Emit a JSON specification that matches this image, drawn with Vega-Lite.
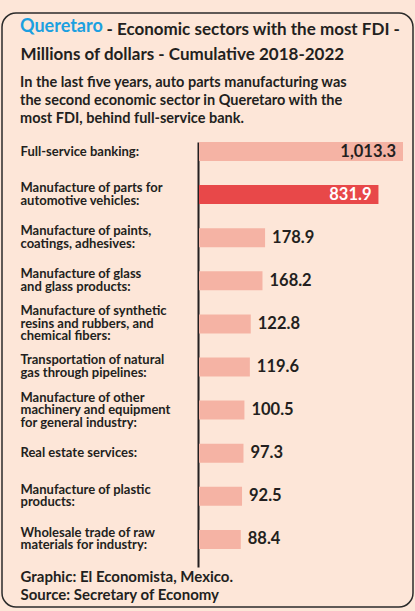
{
  "$schema": "https://vega.github.io/schema/vega-lite/v6.json",
  "width": 411,
  "height": 594,
  "autosize": "none",
  "padding": {"left": 2, "top": 13, "right": 2, "bottom": 4},
  "background": "#fde6d8",
  "config": {
    "font": "Lato",
    "view": {"stroke": "#2b2b2b", "strokeWidth": 1.5, "cornerRadius": 14, "fill": "#fde6d8"}
  },
  "title": {
    "text": "Queretaro",
    "color": "#1ba0e0",
    "font": "Lato",
    "fontSize": 18,
    "fontWeight": "bold",
    "anchor": "start",
    "frame": "group",
    "offset": -112,
    "dx": 18,
    "subtitle": ["In the last five years, auto parts manufacturing was", "the second economic sector in Queretaro with the", "most FDI, behind full-service bank."],
    "subtitleColor": "#231f20",
    "subtitleFont": "Lato",
    "subtitleFontSize": 14.5,
    "subtitleFontWeight": "bold",
    "subtitleLineHeight": 18,
    "subtitlePadding": 40
  },
  "data": {
    "values": [
      {"sector": "Full-service banking:", "value": 1013.3},
      {"sector": "Manufacture of parts for|automotive vehicles:", "value": 831.9},
      {"sector": "Manufacture of paints,|coatings, adhesives:", "value": 178.9},
      {"sector": "Manufacture of glass|and glass products:", "value": 168.2},
      {"sector": "Manufacture of synthetic|resins and rubbers, and|chemical fibers:", "value": 122.8},
      {"sector": "Transportation of natural|gas through pipelines:", "value": 119.6},
      {"sector": "Manufacture of other|machinery and equipment|for general industry:", "value": 100.5},
      {"sector": "Real estate services:", "value": 97.3},
      {"sector": "Manufacture of plastic|products:", "value": 92.5},
      {"sector": "Wholesale trade of raw|materials for industry:", "value": 88.4}
    ]
  },
  "encoding": {
    "y": {
      "field": "sector",
      "type": "nominal",
      "sort": null,
      "scale": {"range": [129, 554], "paddingInner": 0.559, "paddingOuter": 0.21, "align": 0},
      "axis": {
        "offset": -196,
        "domain": true,
        "domainColor": "#231f20",
        "domainWidth": 2,
        "ticks": false,
        "tickSize": 0,
        "grid": false,
        "labelExpr": "split(datum.label, '|')",
        "labelAlign": "left",
        "labelBaseline": "middle",
        "labelOffset": {
          "condition": [
            {"test": "length(split(datum.label, '|')) == 3", "value": -12.5},
            {"test": "length(split(datum.label, '|')) == 2", "value": -6.5}
          ],
          "value": 0
        },
        "labelPadding": 178,
        "labelLimit": 220,
        "labelFont": "Lato",
        "labelFontSize": 13,
        "labelFontWeight": "bold",
        "labelLineHeight": 12.5,
        "labelColor": "#231f20",
        "title": "- Economic sectors with the most FDI -",
        "titleAngle": 0,
        "titleAlign": "left",
        "titleBaseline": "middle",
        "titleX": -92,
        "titleY": 16,
        "titleFont": "Lato",
        "titleFontSize": 17,
        "titleFontWeight": "bold",
        "titleColor": "#231f20"
      }
    }
  },
  "layer": [
    {
      "mark": {"type": "bar"},
      "encoding": {
        "x": {
          "field": "value",
          "type": "quantitative",
          "scale": {"type": "pow", "exponent": 0.65, "domain": [0, 1013.3], "nice": false, "range": [197, 401]},
          "axis": {
            "orient": "top",
            "domain": false,
            "ticks": false,
            "labels": false,
            "grid": false,
            "title": "Millions of dollars - Cumulative 2018-2022",
            "titleAnchor": "start",
            "titleAlign": "left",
            "titleBaseline": "middle",
            "titleX": 18,
            "titleY": 41,
            "titleFont": "Lato",
            "titleFontSize": 17,
            "titleFontWeight": "bold",
            "titleColor": "#231f20"
          }
        },
        "color": {
          "condition": {"test": "indexof(datum.sector, 'automotive') >= 0", "value": "#e84849"},
          "value": "#f5b3a4"
        }
      }
    },
    {
      "transform": [{"filter": "datum.value < 500"}],
      "mark": {"type": "text", "align": "left", "baseline": "middle", "dx": 7, "font": "Lato", "fontSize": 16.5, "fontWeight": "bold", "color": "#231f20"},
      "encoding": {
        "x": {
          "field": "value",
          "type": "quantitative",
          "axis": {
            "orient": "bottom",
            "domain": false,
            "ticks": false,
            "labels": false,
            "grid": false,
            "title": ["Graphic: El Economista, Mexico.", "Source: Secretary of Economy"],
            "titleAnchor": "start",
            "titleAlign": "left",
            "titleBaseline": "middle",
            "titleX": 18,
            "titleY": -31,
            "titleLineHeight": 18,
            "titleFont": "Lato",
            "titleFontSize": 15,
            "titleFontWeight": "bold",
            "titleColor": "#231f20"
          }
        },
        "text": {"field": "value", "type": "quantitative", "format": ",.1f"}
      }
    },
    {
      "transform": [{"filter": "datum.value >= 500"}],
      "mark": {"type": "text", "align": "right", "baseline": "middle", "dx": -7, "font": "Lato", "fontSize": 16.5, "fontWeight": "bold"},
      "encoding": {
        "x": {"field": "value", "type": "quantitative", "axis": null},
        "text": {"field": "value", "type": "quantitative", "format": ",.1f"},
        "color": {
          "condition": {"test": "indexof(datum.sector, 'automotive') >= 0", "value": "#ffffff"},
          "value": "#231f20"
        }
      }
    }
  ],
  "resolve": {"axis": {"x": "independent"}}
}
